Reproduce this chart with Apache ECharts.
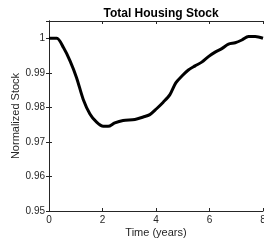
<!DOCTYPE html>
<html>
<head>
<meta charset="utf-8">
<style>
  html, body { margin: 0; padding: 0; background: #fff; }
  #main { width: 264px; height: 242px; }
</style>
</head>
<body>
<div id="main"></div>
<script src="https://cdn.jsdelivr.net/npm/echarts@6/dist/echarts.min.js"></script>
<script>
// time in years, normalized stock
var years = [0, 0.29, 0.54, 0.79, 1.03, 1.28, 1.53, 1.78, 2.03, 2.21, 2.46, 2.77, 3.21, 3.52, 3.77,
  4.02, 4.27, 4.52, 4.74, 4.96, 5.21, 5.46, 5.71, 5.96, 6.21, 6.46, 6.71, 6.96, 7.21, 7.46, 7.71, 8.0];
var stock = [1.0, 1.0, 0.9973, 0.9934, 0.9886, 0.9823, 0.9781, 0.9757, 0.9745, 0.9745, 0.9755, 0.9762,
  0.9765, 0.9772, 0.9779, 0.9796, 0.9815, 0.9837, 0.9871, 0.9890, 0.9908, 0.9920, 0.9931, 0.9947,
  0.9960, 0.9970, 0.9983, 0.9987, 0.9995, 1.0005, 1.0005, 1.0];
var xTicks = [0, 2, 4, 6, 8];
var yTicks = ['0.95', '0.96', '0.97', '0.98', '0.99', '1'];

var font = 'Liberation Sans, Arial, sans-serif';
var labelColor = '#262626';

var myChart = echarts.init(document.getElementById('main'));

var points = years.map(function (t, i) { return [t, stock[i]]; });

function yLabel(v) {
  var s = (Math.round(v * 1000) / 1000).toString();
  return yTicks.indexOf(s) >= 0 ? s : '';
}

var option = {
  animation: false,
  title: {
    text: 'Total Housing Stock',
    left: 156, top: 3, textAlign: 'center',
    textStyle: { fontFamily: font, fontSize: 12, fontWeight: 'bold', color: '#000' }
  },
  grid: { left: 49, top: 21, right: 1, bottom: 31, outerBoundsMode: 'none', containLabel: false },
  xAxis: [{
    type: 'value', min: 0, max: 8, interval: 2,
    name: 'Time (years)', nameLocation: 'middle', nameGap: 16, nameMoveOverlap: false,
    nameTextStyle: { fontFamily: font, fontSize: 11, color: labelColor },
    axisLine: { lineStyle: { color: '#262626', width: 1 } },
    axisTick: { inside: true, length: 3, lineStyle: { color: '#262626' } },
    axisLabel: { fontFamily: font, fontSize: 10, color: labelColor, margin: 4,
      formatter: function (v) { return xTicks.indexOf(v) >= 0 ? String(v) : ''; } },
    splitLine: { show: false }
  }, {
    type: 'value', min: 0, max: 8, interval: 2, position: 'top',
    axisLine: { lineStyle: { color: '#262626', width: 1 } },
    axisTick: { inside: true, length: 3, lineStyle: { color: '#262626' } },
    axisLabel: { show: false }, splitLine: { show: false }
  }],
  yAxis: [{
    type: 'value', min: 0.95, max: 1.005, interval: 0.01,
    name: 'Normalized Stock', nameLocation: 'middle', nameGap: 28, nameMoveOverlap: false,
    nameTextStyle: { fontFamily: font, fontSize: 11, color: labelColor },
    axisLine: { lineStyle: { color: '#262626', width: 1 } },
    axisTick: { inside: true, length: 3, lineStyle: { color: '#262626' } },
    axisLabel: { fontFamily: font, fontSize: 10, color: labelColor, margin: 4,
      showMaxLabel: false, formatter: yLabel },
    splitLine: { show: false }
  }, {
    type: 'value', min: 0.95, max: 1.005, interval: 0.01, position: 'right',
    axisLine: { lineStyle: { color: '#262626', width: 1 } },
    axisTick: { inside: true, length: 3, lineStyle: { color: '#262626' } },
    axisLabel: { show: false }, splitLine: { show: false }
  }],
  series: [{
    type: 'line',
    data: points,
    showSymbol: false,
    smooth: 0.3,
    lineStyle: { color: '#000', width: 3 },
    clip: false
  }]
};

myChart.setOption(option);
</script>
</body>
</html>
